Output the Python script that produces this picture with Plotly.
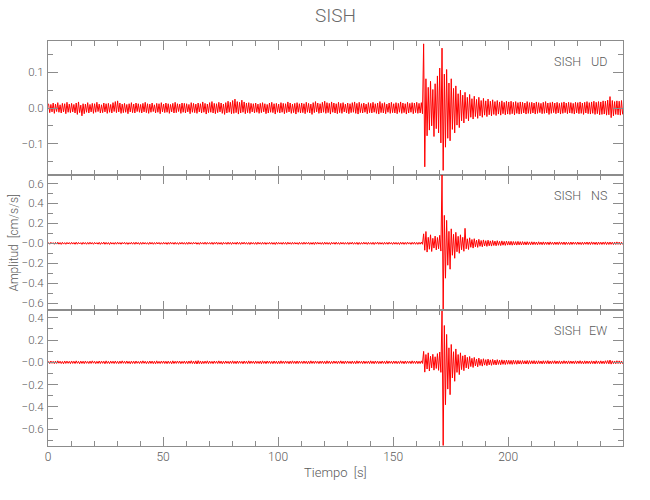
import plotly.graph_objects as go
from plotly.subplots import make_subplots

# ---------------- data (per-second max/min envelope) ----------------
bin_start_s = list(range(250))  # start time of each 1-s bin

ud_max = [
 0.012, 0.010, 0.014, 0.011, 0.015, 0.009, 0.013, 0.012, 0.016, 0.011,
 0.013, 0.010, 0.014, 0.017, 0.008, 0.012, 0.011, 0.015, 0.010, 0.013,
 0.012, 0.016, 0.011, 0.009, 0.014, 0.012, 0.013, 0.010, 0.015, 0.018,
 0.020, 0.014, 0.011, 0.013, 0.010, 0.012, 0.015, 0.011, 0.014, 0.012,
 0.010, 0.013, 0.016, 0.012, 0.011, 0.014, 0.009, 0.013, 0.012, 0.015,
 0.011, 0.014, 0.012, 0.010, 0.013, 0.016, 0.012, 0.011, 0.014, 0.013,
 0.012, 0.010, 0.015, 0.013, 0.011, 0.014, 0.012, 0.017, 0.013, 0.011,
 0.015, 0.018, 0.013, 0.012, 0.016, 0.014, 0.011, 0.015, 0.019, 0.016,
 0.021, 0.025, 0.018, 0.016, 0.022, 0.017, 0.014, 0.015, 0.013, 0.012,
 0.014, 0.011, 0.013, 0.015, 0.012, 0.010, 0.014, 0.016, 0.012, 0.013,
 0.011, 0.015, 0.013, 0.012, 0.017, 0.014, 0.011, 0.013, 0.015, 0.012,
 0.014, 0.012, 0.016, 0.013, 0.011, 0.015, 0.018, 0.014, 0.012, 0.016,
 0.019, 0.015, 0.013, 0.017, 0.014, 0.012, 0.016, 0.013, 0.015, 0.011,
 0.014, 0.012, 0.015, 0.017, 0.013, 0.016, 0.012, 0.014, 0.011, 0.015,
 0.013, 0.016, 0.012, 0.014, 0.018, 0.013, 0.015, 0.011, 0.014, 0.016,
 0.012, 0.015, 0.013, 0.017, 0.014, 0.012, 0.016, 0.013, 0.015, 0.014,
 0.016, 0.013, 0.015, 0.180, 0.082, 0.058, 0.075, 0.052, 0.068, 0.090,
 0.112, 0.168, 0.095, 0.108, 0.070, 0.082, 0.055, 0.062, 0.040, 0.050,
 0.036, 0.044, 0.030, 0.038, 0.026, 0.033, 0.024, 0.030, 0.021, 0.027,
 0.020, 0.025, 0.019, 0.023, 0.018, 0.021, 0.017, 0.020, 0.016, 0.019,
 0.017, 0.019, 0.016, 0.018, 0.015, 0.017, 0.016, 0.014, 0.018, 0.015,
 0.016, 0.014, 0.017, 0.015, 0.013, 0.016, 0.018, 0.014, 0.015, 0.017,
 0.014, 0.016, 0.013, 0.015, 0.017, 0.014, 0.016, 0.015, 0.013, 0.016,
 0.015, 0.017, 0.014, 0.016, 0.018, 0.015, 0.017, 0.019, 0.016, 0.018,
 0.017, 0.020, 0.019, 0.022, 0.032, 0.021, 0.018, 0.020, 0.019, 0.021,
]
ud_min = [
 -0.013, -0.011, -0.015, -0.010, -0.012, -0.014, -0.011, -0.016, -0.012, -0.013,
 -0.011, -0.014, -0.018, -0.013, -0.022, -0.016, -0.012, -0.014, -0.011, -0.015,
 -0.012, -0.010, -0.014, -0.013, -0.011, -0.015, -0.012, -0.014, -0.010, -0.013,
 -0.011, -0.015, -0.013, -0.012, -0.016, -0.011, -0.013, -0.014, -0.010, -0.012,
 -0.014, -0.011, -0.013, -0.015, -0.012, -0.010, -0.014, -0.012, -0.016, -0.011,
 -0.013, -0.012, -0.015, -0.011, -0.014, -0.013, -0.010, -0.015, -0.012, -0.014,
 -0.011, -0.016, -0.012, -0.013, -0.015, -0.011, -0.014, -0.012, -0.017, -0.013,
 -0.012, -0.014, -0.016, -0.013, -0.011, -0.015, -0.018, -0.014, -0.012, -0.016,
 -0.015, -0.013, -0.017, -0.014, -0.012, -0.016, -0.013, -0.015, -0.011, -0.014,
 -0.012, -0.015, -0.013, -0.011, -0.016, -0.014, -0.012, -0.013, -0.017, -0.012,
 -0.014, -0.012, -0.016, -0.013, -0.011, -0.015, -0.013, -0.017, -0.012, -0.014,
 -0.013, -0.016, -0.012, -0.014, -0.018, -0.013, -0.011, -0.015, -0.014, -0.012,
 -0.015, -0.013, -0.017, -0.012, -0.014, -0.016, -0.013, -0.015, -0.011, -0.014,
 -0.016, -0.013, -0.012, -0.015, -0.017, -0.013, -0.014, -0.012, -0.016, -0.013,
 -0.014, -0.012, -0.015, -0.017, -0.013, -0.014, -0.016, -0.012, -0.015, -0.013,
 -0.014, -0.016, -0.012, -0.015, -0.013, -0.017, -0.014, -0.012, -0.016, -0.013,
 -0.015, -0.014, -0.016, -0.165, -0.078, -0.062, -0.050, -0.080, -0.058, -0.070,
 -0.098, -0.175, -0.110, -0.085, -0.092, -0.060, -0.070, -0.048, -0.055, -0.036,
 -0.042, -0.030, -0.036, -0.026, -0.031, -0.024, -0.029, -0.022, -0.026, -0.020,
 -0.024, -0.019, -0.022, -0.018, -0.021, -0.017, -0.020, -0.016, -0.019, -0.017,
 -0.018, -0.016, -0.019, -0.015, -0.017, -0.016, -0.014, -0.017, -0.015, -0.016,
 -0.014, -0.017, -0.015, -0.013, -0.016, -0.015, -0.014, -0.018, -0.015, -0.013,
 -0.016, -0.014, -0.017, -0.015, -0.013, -0.016, -0.014, -0.015, -0.017, -0.014,
 -0.016, -0.015, -0.018, -0.014, -0.016, -0.017, -0.015, -0.018, -0.016, -0.019,
 -0.018, -0.017, -0.020, -0.019, -0.027, -0.022, -0.018, -0.019, -0.020, -0.018,
]

ns_max = [
 0.008, 0.010, 0.007, 0.009, 0.011, 0.008, 0.010, 0.007, 0.009, 0.008,
 0.010, 0.008, 0.011, 0.009, 0.007, 0.010, 0.008, 0.009, 0.011, 0.008,
 0.009, 0.007, 0.010, 0.008, 0.012, 0.009, 0.008, 0.010, 0.007, 0.009,
 0.011, 0.008, 0.009, 0.010, 0.008, 0.007, 0.010, 0.009, 0.011, 0.008,
 0.009, 0.010, 0.008, 0.007, 0.011, 0.009, 0.008, 0.010, 0.009, 0.007,
 0.010, 0.008, 0.009, 0.011, 0.008, 0.010, 0.007, 0.009, 0.010, 0.008,
 0.009, 0.011, 0.008, 0.010, 0.009, 0.007, 0.010, 0.008, 0.011, 0.009,
 0.008, 0.010, 0.009, 0.012, 0.008, 0.009, 0.010, 0.008, 0.011, 0.009,
 0.010, 0.008, 0.012, 0.009, 0.010, 0.011, 0.008, 0.009, 0.010, 0.008,
 0.009, 0.011, 0.008, 0.010, 0.009, 0.007, 0.010, 0.009, 0.008, 0.011,
 0.009, 0.008, 0.010, 0.009, 0.011, 0.008, 0.010, 0.009, 0.007, 0.010,
 0.008, 0.011, 0.009, 0.010, 0.008, 0.009, 0.012, 0.010, 0.008, 0.009,
 0.011, 0.009, 0.008, 0.010, 0.009, 0.011, 0.008, 0.010, 0.009, 0.008,
 0.010, 0.009, 0.011, 0.008, 0.010, 0.009, 0.008, 0.011, 0.009, 0.010,
 0.008, 0.010, 0.009, 0.012, 0.009, 0.008, 0.010, 0.009, 0.011, 0.008,
 0.010, 0.009, 0.008, 0.011, 0.010, 0.009, 0.012, 0.008, 0.010, 0.011,
 0.009, 0.010, 0.012, 0.095, 0.118, 0.060, 0.085, 0.050, 0.072, 0.058,
 0.080, 0.685, 0.280, 0.230, 0.120, 0.145, 0.090, 0.110, 0.070, 0.085,
 0.060, 0.150, 0.045, 0.055, 0.038, 0.046, 0.032, 0.040, 0.028, 0.034,
 0.026, 0.031, 0.024, 0.028, 0.022, 0.026, 0.020, 0.024, 0.019, 0.022,
 0.019, 0.020, 0.018, 0.017, 0.019, 0.016, 0.017, 0.015, 0.016, 0.014,
 0.015, 0.014, 0.013, 0.015, 0.012, 0.014, 0.013, 0.012, 0.014, 0.011,
 0.013, 0.012, 0.014, 0.011, 0.013, 0.012, 0.010, 0.013, 0.012, 0.011,
 0.013, 0.010, 0.012, 0.011, 0.013, 0.012, 0.014, 0.011, 0.012, 0.013,
 0.011, 0.012, 0.014, 0.012, 0.013, 0.011, 0.012, 0.014, 0.012, 0.011,
]
ns_min = [
 -0.009, -0.007, -0.010, -0.008, -0.009, -0.011, -0.008, -0.010, -0.007, -0.009,
 -0.008, -0.010, -0.009, -0.007, -0.011, -0.008, -0.010, -0.009, -0.008, -0.010,
 -0.007, -0.009, -0.011, -0.008, -0.010, -0.009, -0.012, -0.008, -0.010, -0.009,
 -0.008, -0.010, -0.007, -0.009, -0.011, -0.008, -0.009, -0.010, -0.008, -0.011,
 -0.010, -0.008, -0.009, -0.011, -0.008, -0.010, -0.009, -0.007, -0.010, -0.009,
 -0.008, -0.011, -0.009, -0.008, -0.010, -0.009, -0.011, -0.008, -0.009, -0.010,
 -0.010, -0.008, -0.009, -0.007, -0.010, -0.011, -0.008, -0.009, -0.010, -0.008,
 -0.009, -0.011, -0.008, -0.010, -0.009, -0.012, -0.008, -0.010, -0.009, -0.011,
 -0.008, -0.010, -0.009, -0.011, -0.008, -0.009, -0.010, -0.012, -0.008, -0.010,
 -0.011, -0.008, -0.010, -0.009, -0.011, -0.008, -0.009, -0.010, -0.012, -0.009,
 -0.008, -0.010, -0.009, -0.011, -0.008, -0.010, -0.009, -0.008, -0.011, -0.009,
 -0.010, -0.009, -0.008, -0.011, -0.010, -0.012, -0.009, -0.008, -0.010, -0.011,
 -0.009, -0.010, -0.012, -0.008, -0.010, -0.009, -0.011, -0.008, -0.010, -0.009,
 -0.011, -0.008, -0.010, -0.009, -0.012, -0.010, -0.009, -0.008, -0.011, -0.009,
 -0.010, -0.012, -0.008, -0.010, -0.009, -0.011, -0.009, -0.010, -0.008, -0.011,
 -0.009, -0.010, -0.012, -0.009, -0.011, -0.010, -0.008, -0.011, -0.009, -0.010,
 -0.011, -0.009, -0.010, -0.070, -0.088, -0.060, -0.082, -0.048, -0.066, -0.055,
 -0.078, -0.669, -0.350, -0.220, -0.260, -0.120, -0.150, -0.085, -0.100, -0.065,
 -0.080, -0.055, -0.062, -0.040, -0.048, -0.035, -0.041, -0.030, -0.035, -0.027,
 -0.031, -0.025, -0.028, -0.022, -0.025, -0.020, -0.023, -0.019, -0.021, -0.018,
 -0.018, -0.019, -0.017, -0.018, -0.016, -0.017, -0.015, -0.016, -0.014, -0.015,
 -0.014, -0.013, -0.015, -0.012, -0.014, -0.013, -0.012, -0.014, -0.011, -0.013,
 -0.012, -0.013, -0.011, -0.012, -0.014, -0.011, -0.013, -0.012, -0.010, -0.012,
 -0.011, -0.013, -0.012, -0.010, -0.012, -0.013, -0.011, -0.012, -0.014, -0.011,
 -0.012, -0.011, -0.013, -0.012, -0.011, -0.013, -0.012, -0.011, -0.013, -0.012,
]

ew_max = [
 0.010, 0.012, 0.009, 0.011, 0.013, 0.010, 0.008, 0.012, 0.011, 0.009,
 0.012, 0.010, 0.013, 0.009, 0.011, 0.010, 0.012, 0.008, 0.011, 0.013,
 0.010, 0.009, 0.012, 0.011, 0.010, 0.013, 0.009, 0.011, 0.010, 0.012,
 0.009, 0.011, 0.013, 0.010, 0.012, 0.009, 0.011, 0.010, 0.012, 0.008,
 0.011, 0.013, 0.010, 0.009, 0.012, 0.011, 0.010, 0.013, 0.009, 0.011,
 0.012, 0.010, 0.011, 0.009, 0.013, 0.010, 0.012, 0.011, 0.009, 0.012,
 0.010, 0.012, 0.014, 0.011, 0.013, 0.015, 0.012, 0.010, 0.011, 0.013,
 0.011, 0.009, 0.012, 0.010, 0.013, 0.011, 0.010, 0.012, 0.009, 0.011,
 0.013, 0.010, 0.012, 0.011, 0.009, 0.012, 0.010, 0.013, 0.011, 0.010,
 0.012, 0.009, 0.011, 0.013, 0.010, 0.012, 0.011, 0.009, 0.012, 0.010,
 0.011, 0.013, 0.010, 0.012, 0.009, 0.011, 0.013, 0.010, 0.012, 0.011,
 0.009, 0.012, 0.010, 0.011, 0.013, 0.010, 0.012, 0.009, 0.011, 0.012,
 0.010, 0.013, 0.011, 0.009, 0.012, 0.010, 0.011, 0.013, 0.010, 0.012,
 0.011, 0.009, 0.012, 0.010, 0.013, 0.011, 0.010, 0.012, 0.009, 0.011,
 0.013, 0.010, 0.012, 0.011, 0.009, 0.012, 0.010, 0.013, 0.011, 0.010,
 0.012, 0.011, 0.009, 0.013, 0.010, 0.012, 0.011, 0.010, 0.013, 0.011,
 0.012, 0.010, 0.013, 0.098, 0.070, 0.085, 0.055, 0.072, 0.050, 0.078,
 0.092, 0.460, 0.330, 0.250, 0.130, 0.160, 0.095, 0.120, 0.070, 0.085,
 0.058, 0.066, 0.045, 0.052, 0.036, 0.044, 0.030, 0.038, 0.026, 0.032,
 0.024, 0.029, 0.022, 0.026, 0.020, 0.024, 0.019, 0.022, 0.018, 0.020,
 0.018, 0.017, 0.019, 0.016, 0.017, 0.015, 0.016, 0.014, 0.016, 0.015,
 0.014, 0.015, 0.013, 0.014, 0.012, 0.014, 0.013, 0.015, 0.012, 0.013,
 0.014, 0.012, 0.013, 0.011, 0.014, 0.012, 0.013, 0.012, 0.011, 0.013,
 0.012, 0.014, 0.011, 0.013, 0.012, 0.011, 0.013, 0.012, 0.014, 0.012,
 0.013, 0.011, 0.014, 0.016, 0.020, 0.013, 0.012, 0.014, 0.013, 0.012,
]
ew_min = [
 -0.011, -0.009, -0.012, -0.010, -0.008, -0.011, -0.013, -0.010, -0.009, -0.012,
 -0.010, -0.011, -0.009, -0.013, -0.010, -0.012, -0.009, -0.011, -0.010, -0.008,
 -0.012, -0.010, -0.011, -0.009, -0.013, -0.010, -0.012, -0.009, -0.011, -0.010,
 -0.012, -0.010, -0.009, -0.011, -0.010, -0.013, -0.010, -0.012, -0.009, -0.011,
 -0.010, -0.009, -0.012, -0.011, -0.010, -0.012, -0.013, -0.010, -0.011, -0.009,
 -0.011, -0.012, -0.010, -0.013, -0.011, -0.010, -0.009, -0.012, -0.010, -0.011,
 -0.012, -0.010, -0.011, -0.013, -0.015, -0.012, -0.014, -0.011, -0.010, -0.012,
 -0.010, -0.012, -0.009, -0.011, -0.010, -0.013, -0.011, -0.009, -0.012, -0.010,
 -0.011, -0.012, -0.010, -0.009, -0.013, -0.010, -0.012, -0.011, -0.009, -0.012,
 -0.010, -0.011, -0.013, -0.010, -0.012, -0.009, -0.011, -0.012, -0.010, -0.013,
 -0.012, -0.010, -0.011, -0.009, -0.013, -0.011, -0.010, -0.012, -0.011, -0.009,
 -0.011, -0.010, -0.013, -0.012, -0.010, -0.011, -0.009, -0.012, -0.010, -0.011,
 -0.013, -0.010, -0.012, -0.011, -0.009, -0.012, -0.010, -0.011, -0.013, -0.010,
 -0.010, -0.012, -0.011, -0.013, -0.010, -0.009, -0.012, -0.011, -0.010, -0.012,
 -0.011, -0.013, -0.010, -0.012, -0.011, -0.010, -0.013, -0.011, -0.009, -0.012,
 -0.010, -0.012, -0.011, -0.010, -0.013, -0.011, -0.009, -0.012, -0.010, -0.011,
 -0.012, -0.011, -0.010, -0.088, -0.060, -0.078, -0.050, -0.070, -0.055, -0.072,
 -0.090, -0.745, -0.380, -0.240, -0.290, -0.140, -0.170, -0.090, -0.110, -0.065,
 -0.075, -0.050, -0.058, -0.038, -0.046, -0.032, -0.040, -0.028, -0.034, -0.025,
 -0.030, -0.023, -0.027, -0.021, -0.024, -0.019, -0.022, -0.018, -0.020, -0.017,
 -0.017, -0.018, -0.016, -0.017, -0.015, -0.016, -0.014, -0.015, -0.016, -0.014,
 -0.013, -0.015, -0.014, -0.012, -0.014, -0.013, -0.012, -0.014, -0.013, -0.011,
 -0.013, -0.012, -0.014, -0.012, -0.011, -0.013, -0.012, -0.011, -0.013, -0.012,
 -0.011, -0.012, -0.014, -0.012, -0.011, -0.013, -0.012, -0.014, -0.011, -0.013,
 -0.012, -0.013, -0.011, -0.014, -0.016, -0.012, -0.013, -0.011, -0.012, -0.013,
]

station = "SISH"
components = ["UD", "NS", "EW"]
y_ranges = [[-0.188, 0.188], [-0.669, 0.685], [-0.75, 0.469]]
y_tickvals = [[-0.1, 0.0, 0.1],
              [-0.6, -0.4, -0.2, 0.0, 0.2, 0.4, 0.6],
              [-0.6, -0.4, -0.2, 0.0, 0.2, 0.4]]
y_ticktext = [["\u22120.1", "0.0", "0.1"],
              ["\u22120.6", "\u22120.4", "\u22120.2", "\u22120.0", "0.2", "0.4", "0.6"],
              ["\u22120.6", "\u22120.4", "\u22120.2", "\u22120.0", "0.2", "0.4"]]
y_minor = [0.05, 0.1, 0.1]
x_range = [0, 249.9]

# ---------------- figure ----------------
FONT = "Roboto, Liberation Sans, sans-serif"
W = 300
TXT = "#5a5a5a"
AX = "#8c8c8c"

fig = make_subplots(rows=3, cols=1, shared_xaxes=True, vertical_spacing=0)

def envelope_trace(vmax, vmin):
    xs, ys = [], []
    for t0, hi, lo in zip(bin_start_s, vmax, vmin):
        xs += [t0 + 0.25, t0 + 0.75]
        ys += [hi, lo]
    return xs, ys

for row, (vmax, vmin) in enumerate([(ud_max, ud_min), (ns_max, ns_min), (ew_max, ew_min)], start=1):
    xs, ys = envelope_trace(vmax, vmin)
    fig.add_trace(go.Scatter(x=xs, y=ys, mode="lines",
                             line=dict(color="#ff0000", width=1),
                             showlegend=False, hoverinfo="skip"),
                  row=row, col=1)

domains = [[271 / 405, 1.0], [136 / 405, 271 / 405], [0.0, 136 / 405]]
for i in range(3):
    row = i + 1
    fig.update_xaxes(range=x_range, tick0=0, dtick=50, ticks="inside", ticklen=9,
                     tickcolor=AX, tickwidth=1, showline=True, linecolor=AX, linewidth=1,
                     mirror="allticks", showgrid=False, zeroline=False,
                     showticklabels=(row == 3),
                     tickfont=dict(family=FONT, size=12, color=TXT, weight=W),
                     minor=dict(dtick=10, tick0=0, ticks="inside", ticklen=5,
                                tickcolor=AX, showgrid=False),
                     row=row, col=1)
    fig.update_yaxes(range=y_ranges[i], tickvals=y_tickvals[i], ticktext=y_ticktext[i],
                     ticks="inside", ticklen=10, tickcolor=AX, tickwidth=1,
                     showline=True, linecolor=AX, linewidth=1, mirror="allticks",
                     showgrid=False, zeroline=False, domain=domains[i],
                     ticklabelstandoff=1,
                     tickfont=dict(family=FONT, size=11.5, color=TXT, weight=W),
                     minor=dict(dtick=y_minor[i], tick0=0, ticks="inside", ticklen=5,
                                tickcolor=AX, showgrid=False),
                     row=row, col=1)
    yref = "y" if row == 1 else f"y{row}"
    xref = "x" if row == 1 else f"x{row}"
    fig.add_annotation(text=station, xref=f"{xref} domain", yref=f"{yref} domain",
                       x=0.931, y=1 - 20.5 / 135, xanchor="right", yanchor="middle",
                       showarrow=False, font=dict(family=FONT, size=12.5, color=TXT, weight=W))
    fig.add_annotation(text=components[i], xref=f"{xref} domain", yref=f"{yref} domain",
                       x=0.976, y=1 - 20.5 / 135, xanchor="right", yanchor="middle",
                       showarrow=False, font=dict(family=FONT, size=12.5, color=TXT, weight=W))

# titles
fig.add_annotation(text=station, xref="paper", yref="paper", x=0.5, y=(446 - 16) / 405,
                   xanchor="center", yanchor="middle", showarrow=False,
                   font=dict(family=FONT, size=19, color="#6a6a6a", weight=W))
fig.add_annotation(text="Tiempo  [s]", xref="paper", yref="paper", x=0.5, y=(446 - 472) / 405,
                   xanchor="center", yanchor="middle", showarrow=False,
                   font=dict(family=FONT, size=13, color=TXT, weight=W))
fig.add_annotation(text="Amplitud  [cm/s/s]", xref="paper", yref="paper",
                   x=(13 - 47.5) / 575.5, y=(446 - 243) / 405, textangle=-90,
                   xanchor="center", yanchor="middle", showarrow=False,
                   font=dict(family=FONT, size=12, color=TXT, weight=W))

fig.update_layout(width=650, height=500,
                  margin=dict(l=47.5, r=27, t=41, b=54, pad=0),
                  paper_bgcolor="white", plot_bgcolor="white",
                  showlegend=False)

fig.write_html("out.html", config={"displayModeBar": False},
               post_script="document.body.style.margin='0';document.body.style.padding='0';")
